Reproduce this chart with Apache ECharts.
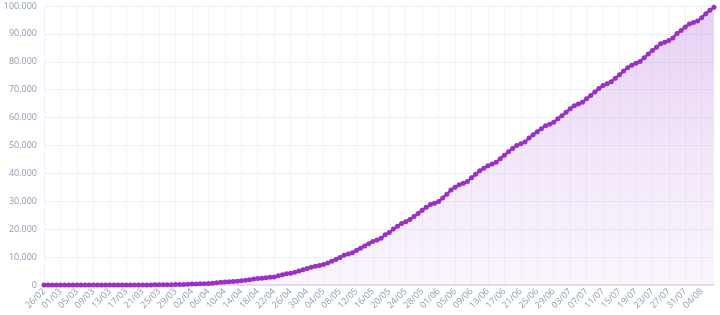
<!DOCTYPE html>
<html>
<head>
<meta charset="utf-8">
<script src="https://cdn.jsdelivr.net/npm/echarts@6/dist/echarts.min.js"></script>
<style>
  html, body { margin: 0; padding: 0; background: #fff; }
  #chart { width: 720px; height: 315px; }
</style>
</head>
<body>
<div id="chart"></div>
<script>
// dias (dd/mm), 26/02 a 07/08
const feb = ['26/02', '27/02', '28/02', '29/02'];
const mar = ['01/03','02/03','03/03','04/03','05/03','06/03','07/03','08/03','09/03','10/03','11/03','12/03','13/03','14/03','15/03','16/03','17/03','18/03','19/03','20/03','21/03','22/03','23/03','24/03','25/03','26/03','27/03','28/03','29/03','30/03','31/03'];
const apr = ['01/04','02/04','03/04','04/04','05/04','06/04','07/04','08/04','09/04','10/04','11/04','12/04','13/04','14/04','15/04','16/04','17/04','18/04','19/04','20/04','21/04','22/04','23/04','24/04','25/04','26/04','27/04','28/04','29/04','30/04'];
const may = ['01/05','02/05','03/05','04/05','05/05','06/05','07/05','08/05','09/05','10/05','11/05','12/05','13/05','14/05','15/05','16/05','17/05','18/05','19/05','20/05','21/05','22/05','23/05','24/05','25/05','26/05','27/05','28/05','29/05','30/05','31/05'];
const jun = ['01/06','02/06','03/06','04/06','05/06','06/06','07/06','08/06','09/06','10/06','11/06','12/06','13/06','14/06','15/06','16/06','17/06','18/06','19/06','20/06','21/06','22/06','23/06','24/06','25/06','26/06','27/06','28/06','29/06','30/06'];
const jul = ['01/07','02/07','03/07','04/07','05/07','06/07','07/07','08/07','09/07','10/07','11/07','12/07','13/07','14/07','15/07','16/07','17/07','18/07','19/07','20/07','21/07','22/07','23/07','24/07','25/07','26/07','27/07','28/07','29/07','30/07','31/07'];
const aug = ['01/08','02/08','03/08','04/08','05/08','06/08','07/08'];
const days = [].concat(feb, mar, apr, may, jun, jul, aug);

// óbitos acumulados
const febVals = [0, 0, 0, 0];
const marVals = [0,0,0,0,0,0,0,0,0,0,0,0,0,0,0,0,1,4,7,11,18,25,34,46,59,77,92,111,136,159,201];
const aprVals = [240,324,359,445,486,553,667,800,941,1056,1124,1223,1328,1532,1736,1924,2141,2347,2462,2575,2741,2906,3313,3670,4016,4205,4543,5017,5466,5901];
const mayVals = [6329,6750,7025,7321,7921,8536,9146,9897,10627,11123,11519,12400,13149,13993,14817,15633,16118,16792,17971,18859,20047,21048,22013,22666,23473,24512,25598,26754,27878,28834,29314];
const junVals = [29937,31199,32548,34021,35026,35930,36455,37134,38406,39680,40919,41828,42720,43332,43959,45241,46510,47748,48954,49976,50617,51271,52645,53830,54971,55961,57070,57622,58314,59594];
const julVals = [60632,61884,63174,64265,64867,65487,66741,67964,69184,70398,71469,72100,72833,74133,75366,76688,77851,78772,79488,80120,81487,82771,84082,85238,86449,87004,87618,88539,90134,91263,92475];
const augVals = [93563,94104,94665,95819,97256,98493,99572];
const deaths = [].concat(febVals, marVals, aprVals, mayVals, junVals, julVals, augVals);

const chart = echarts.init(document.getElementById('chart'));

function fmt(v) {
  return String(v).replace(/\B(?=(\d{3})+(?!\d))/g, '.');
}

chart.setOption({
  animation: false,
  grid: { left: 44, right: 6, top: 6, bottom: 30 },
  xAxis: {
    type: 'category',
    data: days,
    boundaryGap: false,
    axisLine: { lineStyle: { color: '#e4dcea', width: 2 } },
    axisTick: { show: false },
    axisLabel: {
      interval: 3,
      rotate: 45,
      color: '#8d9bb3',
      fontSize: 9,
      fontFamily: 'Open Sans',
      margin: 5
    },
    splitLine: { show: true, interval: 3, lineStyle: { color: '#f2f3f9' } }
  },
  yAxis: {
    type: 'value',
    min: 0,
    max: 100000,
    interval: 10000,
    axisLine: { show: true, lineStyle: { color: '#eef2fa' } },
    axisTick: { show: false },
    axisLabel: {
      color: '#8d9bb3',
      fontSize: 9,
      fontFamily: 'Open Sans',
      margin: 7,
      formatter: fmt
    },
    splitLine: { lineStyle: { color: '#eaf0f8' } }
  },
  series: [{
    type: 'line',
    data: deaths,
    symbol: 'circle',
    symbolSize: 5,
    showAllSymbol: true,
    clip: false,
    lineStyle: { color: '#9a30c4', width: 2.5 },
    itemStyle: { color: '#9a30c4' },
    areaStyle: {
      color: new echarts.graphic.LinearGradient(0, 0, 0, 1, [
        { offset: 0, color: 'rgba(190, 130, 225, 0.55)' },
        { offset: 1, color: 'rgba(225, 200, 242, 0.25)' }
      ])
    }
  }]
});
</script>
</body>
</html>
